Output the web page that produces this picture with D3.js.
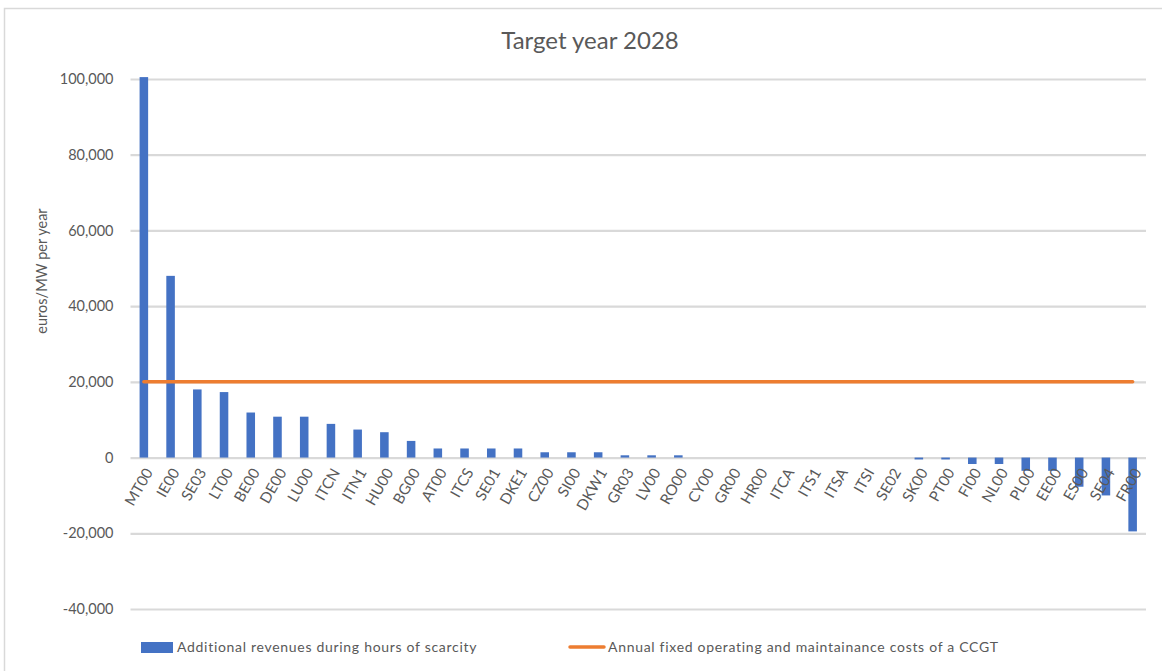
<!DOCTYPE html>
<html>
<head>
<meta charset="utf-8">
<script src="https://cdn.jsdelivr.net/npm/d3@7"></script>
<style>
  html, body { margin: 0; padding: 0; background: #fff; }
  svg { display: block; }
  text { font-family: Lato, "Open Sans", "Liberation Sans", sans-serif; fill: #595959; }
</style>
</head>
<body>
<svg id="chart" width="1162" height="671"></svg>
<script>
// Bidding zones, ordered by additional scarcity revenue
const zones = ["MT00","IE00","SE03","LT00","BE00","DE00","LU00","ITCN","ITN1","HU00",
  "BG00","AT00","ITCS","SE01","DKE1","CZ00","SI00","DKW1","GR03","LV00",
  "RO00","CY00","GR00","HR00","ITCA","ITS1","ITSA","ITSI","SE02","SK00",
  "PT00","FI00","NL00","PL00","EE00","ES00","SE04","FR00"];

// Additional revenues during hours of scarcity (euros/MW per year)
const scarcityRevenue = [100500, 48000, 18000, 17300, 11900, 10800, 10800, 8900, 7400, 6700,
  4400, 2400, 2400, 2400, 2400, 1400, 1400, 1400, 600, 600,
  600, 0, 0, 0, 0, 0, 0, 0, 0, -500,
  -500, -1700, -1700, -3500, -3500, -7700, -10000, -19500];

// Annual fixed O&M cost of a CCGT (euros/MW per year), flat across zones
const ccgtFixedCost = zones.map(() => 20000);

const yTicks = [-40000, -20000, 0, 20000, 40000, 60000, 80000, 100000];

const legendLabels = ["Additional revenues during hours of scarcity",
  "Annual fixed operating and maintainance costs of a CCGT"];

const svg = d3.select("#chart");
const plot = { left: 130.5, right: 1146, top: 79, bottom: 609 };

const x = d3.scaleBand().domain(zones).range([plot.left, plot.right]).paddingInner(0.68).paddingOuter(0.34);
const y = d3.scaleLinear().domain([-40000, 100000]).range([plot.bottom, plot.top]);

// thousands separator with a plain hyphen for negatives
const fmt = v => d3.format(",")(v).replace("\u2212", "-");

// chart frame
svg.append("rect").attr("x", 4.5).attr("y", 8.5).attr("width", 1170).attr("height", 680)
  .attr("fill", "none").attr("stroke", "#d9d9d9").attr("stroke-width", 1.5);

// title
svg.append("text").attr("x", 590).attr("y", 49).attr("text-anchor", "middle")
  .style("font-size", "24px").text("Target year 2028");

// gridlines + tick labels
const yAxis = d3.axisLeft(y).tickValues(yTicks).tickFormat(fmt)
  .tickSize(-(plot.right - plot.left)).tickPadding(17);
const gy = svg.append("g").attr("transform", `translate(${plot.left},0)`).call(yAxis);
gy.select(".domain").remove();
gy.selectAll(".tick line").attr("stroke", "#d9d9d9").attr("stroke-width", 2.2);
gy.selectAll(".tick text").style("font-size", "14.5px").attr("fill", "#595959")
  .style("font-family", "Lato, 'Open Sans', sans-serif");

// y axis title
svg.append("text").attr("transform", "translate(47,271) rotate(-90)")
  .attr("text-anchor", "middle").style("font-size", "14.5px").text("euros/MW per year");

// bars
svg.append("g").selectAll("rect").data(zones).join("rect")
  .attr("x", d => x(d))
  .attr("width", x.bandwidth())
  .attr("y", (d, i) => y(Math.max(0, scarcityRevenue[i])))
  .attr("height", (d, i) => Math.abs(y(scarcityRevenue[i]) - y(0)))
  .attr("fill", "#4472c4");

// CCGT cost line
const line = d3.line().x(d => x(d[0]) + x.bandwidth() / 2).y(d => y(d[1]));
svg.append("path").datum(zones.map((z, i) => [z, ccgtFixedCost[i]]))
  .attr("d", line).attr("fill", "none").attr("stroke", "#ed7d31")
  .attr("stroke-width", 3.5).attr("stroke-linecap", "round");

// category labels
const xAxis = d3.axisBottom(x).tickSize(0).tickPadding(0);
const gx = svg.append("g").attr("transform", `translate(0,${y(0)})`).call(xAxis);
gx.select(".domain").remove();
gx.selectAll(".tick text")
  .attr("text-anchor", "end")
  .attr("transform", "translate(5,12) rotate(-60)")
  .attr("dy", "0.35em").attr("x", 0).attr("y", 0)
  .style("font-size", "15px").attr("fill", "#595959")
  .style("font-family", "Lato, 'Open Sans', sans-serif");

// legend
const lg = svg.append("g");
lg.append("rect").attr("x", 141).attr("y", 642).attr("width", 32).attr("height", 11).attr("fill", "#4472c4");
lg.append("text").attr("x", 177).attr("y", 652).style("font-size", "14px").style("letter-spacing", "0.7px")
  .text(legendLabels[0]);
lg.append("line").attr("x1", 570).attr("x2", 604).attr("y1", 647).attr("y2", 647)
  .attr("stroke", "#ed7d31").attr("stroke-width", 3.5).attr("stroke-linecap", "round");
lg.append("text").attr("x", 608).attr("y", 652).style("font-size", "14px").style("letter-spacing", "0.7px")
  .text(legendLabels[1]);
</script>
</body>
</html>
